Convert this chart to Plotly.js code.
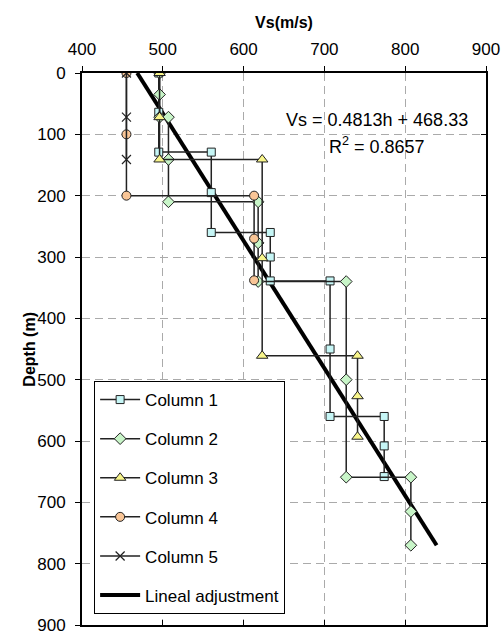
<!DOCTYPE html>
<html>
<head>
<meta charset="utf-8">
<script src="https://cdn.plot.ly/plotly-3.0.1.min.js"></script>
<style>html,body{margin:0;padding:0;background:#fff;}#chart{width:502px;height:634px;}</style>
</head>
<body>
<div id="chart"></div>
<script>
// Column 1 (squares)
const col1Vs    = [495, 495, 495, 560, 560, 560, 633, 633, 633, 707, 707, 707, 774, 774, 774];
const col1Depth = [0, 64, 129, 129, 195, 260, 260, 300, 339, 339, 450, 560, 560, 608, 658];
// Column 2 (diamonds)
const col2Vs    = [496, 496, 496, 507, 507, 507, 618, 618, 618, 727, 727, 727, 807, 807, 807];
const col2Depth = [0, 35, 72, 72, 141, 210, 210, 277, 340, 340, 500, 659, 659, 715, 770];
// Column 3 (triangles)
const col3Vs    = [496, 496, 496, 623, 623, 623, 741, 741, 741];
const col3Depth = [0, 72, 141, 141, 302, 461, 461, 527, 593];
// Column 4 (circles)
const col4Vs    = [455, 455, 455, 613, 613, 613];
const col4Depth = [0, 100, 200, 200, 270, 338];
// Column 5 (stars)
const col5Vs    = [455, 455, 455];
const col5Depth = [0, 72, 141];
// Linear adjustment endpoints
const fitVs     = [468.33, 838.9];
const fitDepth  = [0, 770];

const seriesNames = ["Column 1", "Column 2", "Column 3", "Column 4", "Column 5", "Lineal adjustment"];
const xTicks = [400, 500, 600, 700, 800, 900];
const yTicks = [0, 100, 200, 300, 400, 500, 600, 700, 800, 900];
const eqText = "Vs = 0.4813h + 468.33";
const r2Text = "R<sup>2</sup> = 0.8657";
const xTitle = "Vs(m/s)";
const yTitle = "Depth (m)";

const FONT = "Liberation Sans, Arial, Helvetica, sans-serif";
const lineStyle = {color: "#222", width: 1.5};

function colTrace(name, x, y, symbol, fill, size, rank) {
  return {
    type: "scatter", mode: "lines+markers", name: name,
    x: x, y: y, legendgroup: name, legendrank: rank,
    line: lineStyle,
    marker: {symbol: symbol, size: size, color: fill, line: {color: "#222", width: 1}}
  };
}

const traces = [
  {type: "scatter", mode: "lines", name: seriesNames[5], x: fitVs, y: fitDepth,
   legendgroup: "fit", legendrank: 6, line: {color: "#000", width: 4}},
  colTrace(seriesNames[0], col1Vs, col1Depth, "square", "#c6f6f6", 8, 1),
  colTrace(seriesNames[1], col2Vs, col2Depth, "diamond", "#c8f5c8", 9, 2),
  colTrace(seriesNames[2], col3Vs, col3Depth, "triangle-up", "#f8f58a", 10, 3),
  colTrace(seriesNames[3], col4Vs, col4Depth, "circle", "#f9c596", 9, 4),
  {type: "scatter", mode: "lines+markers", name: seriesNames[4], x: col5Vs, y: col5Depth,
   legendgroup: "c5", legendrank: 5, line: lineStyle,
   marker: {symbol: "x-thin-open", size: 9, color: "#222", line: {color: "#222", width: 1.2}}},
  {type: "scatter", mode: "markers", x: [], y: [], xaxis: "x2", yaxis: "y2", showlegend: false, hoverinfo: "skip"}
];

const layout = {
  width: 502, height: 634,
  margin: {l: 82, r: 16, t: 73, b: 9},
  paper_bgcolor: "#fff", plot_bgcolor: "#fff",
  font: {family: FONT, size: 17, color: "#000"},
  showlegend: true,
  legend: {
    x: 0.03, y: 0.442, xanchor: "left", yanchor: "top",
    bgcolor: "#fff", bordercolor: "#000", borderwidth: 1,
    font: {family: FONT, size: 17, color: "#000"},
    itemwidth: 40, tracegroupgap: 14, traceorder: "grouped",
    itemclick: false
  },
  xaxis: {
    side: "top", range: [400, 900], tickvals: xTicks, ticktext: xTicks.map(String),
    ticks: "outside", ticklen: 5, tickcolor: "#000", tickwidth: 1,
    showline: true, linecolor: "#000", linewidth: 2,
    showgrid: true, gridcolor: "#aaa", gridwidth: 1, griddash: "8px,5px",
    zeroline: false, ticklabelstandoff: 4, ticklabeloverflow: "allow",
    tickfont: {family: FONT, size: 17},
    title: {text: "<b>" + xTitle + "</b>", font: {family: FONT, size: 16}, standoff: 8}
  },
  yaxis: {
    range: [900, 0], tickvals: yTicks, ticktext: yTicks.map(String),
    ticks: "outside", ticklen: 5, tickcolor: "#000", tickwidth: 1,
    showline: true, linecolor: "#000", linewidth: 2,
    showgrid: true, gridcolor: "#aaa", gridwidth: 1, griddash: "8px,5px",
    zeroline: false, ticklabelstandoff: 6, ticklabeloverflow: "allow",
    tickfont: {family: FONT, size: 17}
  },
  xaxis2: {
    overlaying: "x", side: "bottom", range: [400, 900], tickvals: xTicks,
    showticklabels: false, ticks: "inside", ticklen: 5, tickcolor: "#000",
    showline: true, linecolor: "#000", linewidth: 1.5, showgrid: false, zeroline: false
  },
  yaxis2: {
    overlaying: "y", side: "right", range: [900, 0], tickvals: yTicks,
    showticklabels: false, ticks: "inside", ticklen: 5, tickcolor: "#000",
    showline: true, linecolor: "#000", linewidth: 1.5, showgrid: false, zeroline: false
  },
  annotations: [
    {xref: "paper", yref: "paper", x: -0.132, y: 0.5, text: "<b>" + yTitle + "</b>", textangle: -90,
     showarrow: false, font: {family: FONT, size: 16}, xanchor: "center", yanchor: "middle"},
    {xref: "x", yref: "y", x: 765, y: 77, text: eqText, showarrow: false,
     font: {family: FONT, size: 18}, xanchor: "center", yanchor: "middle"},
    {xref: "x", yref: "y", x: 765, y: 119, text: r2Text, showarrow: false,
     font: {family: FONT, size: 18}, xanchor: "center", yanchor: "middle"}
  ]
};

Plotly.newPlot("chart", traces, layout, {displayModeBar: false, staticPlot: true});
</script>
</body>
</html>
